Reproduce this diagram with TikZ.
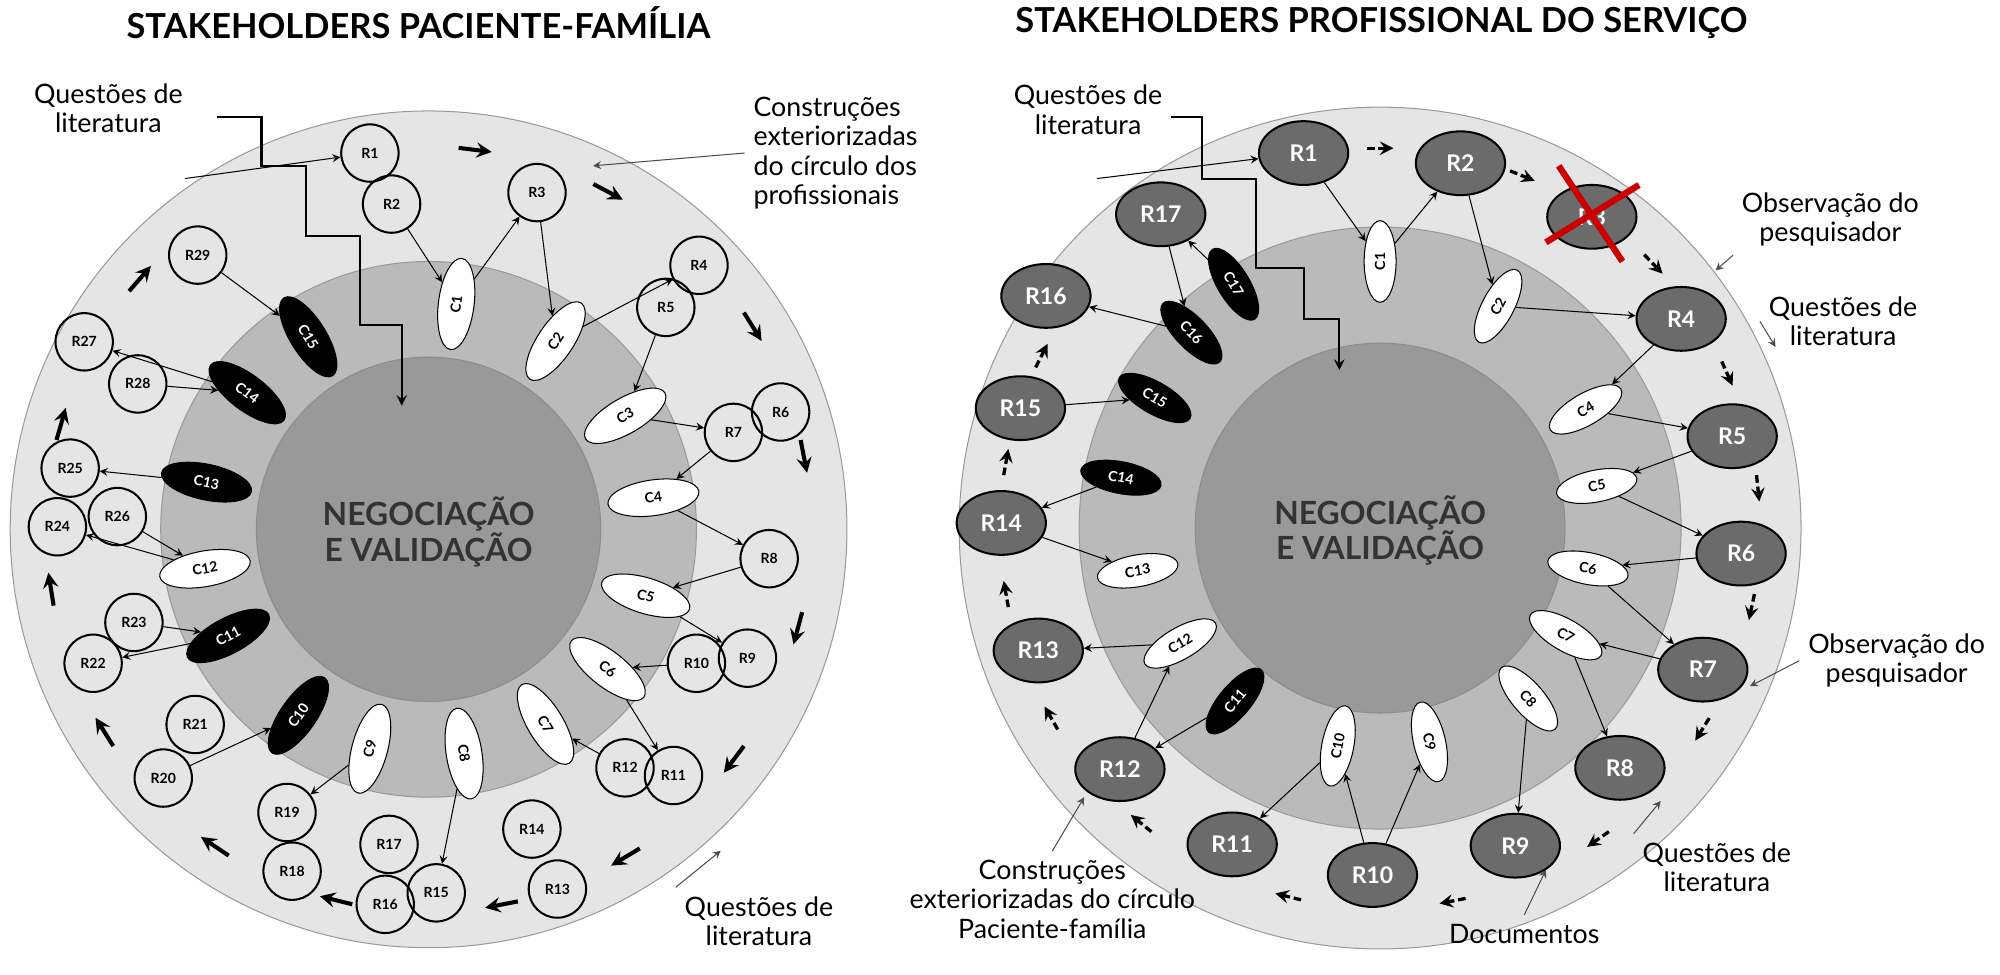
\documentclass[tikz,border=0pt]{standalone}
\usepackage{fontspec}
\setmainfont{Lato}
\usetikzlibrary{shapes.geometric}
\begin{document}
\begin{tikzpicture}[
  x=0.5pt,y=0.5pt,
  every node/.style={align=center},
  title/.style={font=\bfseries\fontsize{13.5}{16}\selectfont},
  label/.style={font=\fontsize{10.5}{11.5}\selectfont},
  hub/.style={font=\bfseries\fontsize{12.5}{14}\selectfont, text=black!80},
  lres/.style={draw, circle, thick, minimum size=22.5pt, inner sep=0pt, font=\bfseries\fontsize{5.5}{6}\selectfont},
  rres/.style={draw, ellipse, thick, fill=black!58, minimum width=35pt, minimum height=25pt, inner sep=0pt, text=white, font=\bfseries\fontsize{9}{10}\selectfont},
  cons/.style={draw, ellipse, fill=white, minimum width=36pt, minimum height=14pt, inner sep=0pt, font=\bfseries\fontsize{5.5}{6}\selectfont},
  consdark/.style={cons, fill=black, text=white},
  link/.style={->, >=stealth, thin},
  chev/.style={->, >=stealth, line width=1.6pt},
  rchev/.style={->, >=stealth, line width=1.3pt, dash pattern=on 3pt off 1.5pt},
  call/.style={->, >=stealth, thin, black!70},
  stair/.style={->, >=stealth, thick}]

\useasboundingbox (0,0) rectangle (1568,-764);

% Titles
\node[title] (lTitle) at (328,-18) {STAKEHOLDERS PACIENTE-FAMÍLIA};
\node[title] (rTitle) at (1083,-18) {STAKEHOLDERS PROFISSIONAL DO SERVIÇO};

% Left circle
\begin{scope}[shift={(336,-415)}]
  \fill[black!10, draw=black!40] (0,0) circle (328);
  \fill[black!27, draw=black!40] (0,0) circle (210);
  \fill[black!40, draw=black!45] (0,0) circle (135);
  \node[hub] (lHub) at (0,-2) {NEGOCIAÇÃO\\E VALIDAÇÃO};
  \foreach \a in {83,62,32,11,-15,-37,-59,-79,-104,-124,-148,-171,164,139}
    \draw[chev] (\a+2.5:300) -- (\a-2.5:300);
  \foreach \i/\a/\s [evaluate=\a as \rot using {abs(\a)>90 ? \a+180 : \a}] in
      {1/83/cons,2/56/cons,3/30/cons,4/8/cons,5/-17/cons,6/-38/cons,
      7/-59/cons,8/-81/cons,9/-105/cons,10/-125/consdark,11/-152/consdark,
      12/-170/cons,13/168/consdark,14/143/consdark,15/122/consdark}
    \node[\s, rotate=\rot] (lC\i) at (\a:178) {C\i};
\end{scope}

\foreach \i/\x/\y in {1/290/120,2/307/160,3/421/151,4/548/208,5/522/241,6/612/323,
    7/575/339,8/603/438,9/586/516,10/546/520,11/528/608,12/490/602,13/437/697,
    14/417/650,15/342/700,16/302/709,17/305/662,18/229/683,19/225/637,20/128/610,
    21/153/568,22/73/520,23/105/488,24/45/413,25/55/367,26/92/405,27/66/268,
    28/108/301,29/155/200}
  \node[lres] (lR\i) at (\x,-\y) {R\i};

\foreach \a/\b in {lR2/lC1,lC1/lR3,lR3/lC2,lC2/lR4,lR5/lC3,lC3/lR7,lR7/lC4,lC4/lR8,
    lR8/lC5,lC5/lR9,lR10/lC6,lC6/lR11,lR12/lC7,lC8/lR15,lC9/lR19,lR20/lC10,
    lC11/lR22,lR23/lC11,lC12/lR24,lR26/lC12,lC13/lR25,lR28/lC14,lC14/lR27,
    lR29/lC15}
  \draw[link] (\a) -- (\b);

\node[label] (lLit) at (85,-85) {Questões de\\literatura};
\node[label, align=left] (lProf) at (655,-120) {Construções\\exteriorizadas\\do círculo dos\\profissionais};
\node[label] (lLit2) at (595,-722) {Questões de\\literatura};
\coordinate (lProfEnd) at (465,-130);
\coordinate (lLit2End) at (565,-667);
\coordinate (lLitStart) at (145,-140);
\draw[stair] (170,-92) -- ++(35,0) -- ++(0,-38) -- ++(35,0) -- ++(0,-55)
  -- ++(42,0) -- ++(0,-70) -- ++(33,0) -- ++(0,-63);
\draw[call] (lProf.west) -- (lProfEnd);
\draw[call] (lLit2.north west) -- (lLit2End);
\draw[link] (lLitStart) -- (lR1);

% Right circle
\begin{scope}[shift={(1082,-414)}]
  \fill[black!10, draw=black!40] (0,0) circle (330);
  \fill[black!27, draw=black!40] (0,0) circle (236);
  \fill[black!40, draw=black!45] (0,0) circle (145);
  \node[hub] (rHub) at (0,-2) {NEGOCIAÇÃO\\E VALIDAÇÃO};
  \foreach \a in {90,68,44,24,6,-12,-32,-55,-79,-104,-129,-150,-170,170,153}
    \draw[rchev] (\a+2:298) -- (\a-2:298);
  \foreach \i/\a/\r/\s [evaluate=\a as \rot using {abs(\a)>90 ? \a+180 : \a}] in
      {1/90/209/cons,2/62/197/cons,4/30/186/cons,5/11/173/cons,
      6/-11/166/cons,7/-30/168/cons,8/-49/177/cons,9/-77/172/cons,10/-101/174/cons,
      11/-130/177/consdark,12/-150/181/cons,13/-170/193/cons,14/169/207/consdark,
      15/150/204/consdark,16/134/213/consdark,17/121/223/consdark}
    \node[\s, rotate=\rot, minimum width=32pt, minimum height=12.5pt] (rC\i) at (\a:\r) {C\i};
\end{scope}

\foreach \i/\x/\y in {1/1022/120,2/1145/128,3/1248/170,4/1318/250,5/1358/342,
    6/1365/434,7/1335/525,8/1270/602,9/1188/663,10/1076/686,11/966/662,
    12/878/603,13/814/510,14/785/410,15/800/320,16/820/232,17/910/168}
  \node[rres] (rR\i) at (\x,-\y) {R\i};

\draw[red!80!black, line width=2.5pt] (1212,-190) -- (1285,-145);
\draw[red!80!black, line width=2.5pt] (1222,-130) -- (1272,-205);

\foreach \a/\b in {rR1/rC1,rC1/rR2,rR2/rC2,rC2/rR4,rR4/rC4,rC4/rR5,rR5/rC5,rC5/rR6,
    rR6/rC6,rC6/rR7,rR7/rC7,rC7/rR8,rC8/rR9,rR10/rC9,rC10/rR11,rR10/rC10,
    rC11/rR12,rR12/rC12,rC12/rR13,rR14/rC13,rC14/rR14,rR15/rC15,rC16/rR16,
    rR17/rC16,rC17/rR17}
  \draw[link] (\a) -- (\b);

\node[label] (rLit) at (853,-86) {Questões de\\literatura};
\node[label] (rObs) at (1435,-172) {Observação do\\pesquisador};
\node[label] (rLit2) at (1445,-252) {Questões de\\literatura};
\node[label] (rObs2) at (1487,-518) {Observação do\\pesquisador};
\node[label] (rLit3) at (1346,-680) {Questões de\\literatura};
\node[label] (rDoc) at (1195,-732) {Documentos};
\node[label] (rCons) at (825,-705) {Construções\\exteriorizadas do círculo\\Paciente-família};
\coordinate (rObsEnd) at (1345,-212);
\coordinate (rLit2End) at (1392,-272);
\coordinate (rObs2End) at (1372,-538);
\coordinate (rLit3End) at (1302,-628);
\coordinate (rDocEnd) at (1212,-682);
\coordinate (rConsEnd) at (850,-625);
\coordinate (rLitStart) at (860,-140);
\draw[call] (rObs.south west) -- (rObsEnd);
\draw[call] (rLit2.west) -- (rLit2End);
\draw[call] (rObs2.west) -- (rObs2End);
\draw[call] (rLit3.north west) -- (rLit3End);
\draw[call] (rDoc.north) -- (rDocEnd);
\draw[call] (rCons.north) -- (rConsEnd);
\draw[link] (rLitStart) -- (rR1);
\draw[stair] (918,-92) -- ++(24,0) -- ++(0,-48) -- ++(43,0) -- ++(0,-70)
  -- ++(37,0) -- ++(0,-40) -- ++(28,0) -- ++(0,-40);
\end{tikzpicture}
\end{document}
